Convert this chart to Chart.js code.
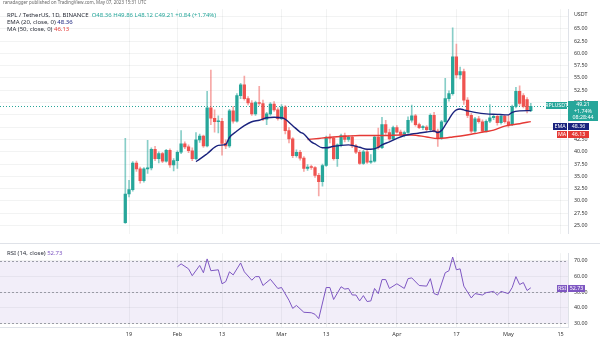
<!DOCTYPE html>
<html><head><meta charset="utf-8">
<script src="https://cdn.jsdelivr.net/npm/chart.js@4.4.0/dist/chart.umd.min.js"></script>
<style>
html,body{margin:0;padding:0;background:#fff;}
#wrap{position:relative;width:600px;height:340px;overflow:hidden;font-family:"Noto Sans",sans-serif;}
canvas{position:absolute;left:0;}
#c1{top:0;}
#c2{top:244px;}
#sep{position:absolute;left:0;top:243px;width:600px;height:1px;background:#dfe2e8;}
.t{position:absolute;white-space:nowrap;font-size:6px;line-height:7px;color:#2a2e39;}
</style></head><body>
<div id="wrap">
<canvas id="c1" width="600" height="243"></canvas>
<canvas id="c2" width="600" height="96"></canvas>
<div id="sep"></div>
<div class="t" style="left:3px;top:0px;font-size:4.5px;line-height:5px;color:#666">ranadagger published on TradingView.com, May 07, 2023 15:31 UTC</div>
<div class="t" style="left:7px;top:12px">RPL / TetherUS, 1D, BINANCE&nbsp; <span style="color:#26a69a">O48.36 H49.86 L48.12 C49.21 +0.84 (+1.74%)</span></div>
<div class="t" style="left:7px;top:19px">EMA (20, close, 0) <span style="color:#1a237e">48.36</span></div>
<div class="t" style="left:7px;top:26px">MA (50, close, 0) <span style="color:#e53935">46.13</span></div>
<div class="t" style="left:7px;top:250px">RSI (14, close) <span style="color:#7e57c2">52.73</span></div>
</div>
<script>
// ---- data (day index 0 = Jan 18, 2023) ----
const tickDays   = [1, 14, 26, 42, 54, 73, 89, 103, 117];
const tickLabels = ['19','Feb','13','Mar','13','Apr','17','May','15'];
const open  = [25.6,31.4,32.3,37.7,36.5,34.1,36.5,36.7,40.5,38.6,39.6,38.1,40.3,37.3,38.2,39.9,41.6,41.0,40.2,38.6,42.4,43.2,41.2,48.9,46.8,46.1,46.2,41.7,41.2,48.3,46.2,51.4,53.6,50.8,49.9,47.7,50.0,49.8,46.6,47.7,49.7,48.5,46.7,49.1,44.3,42.6,39.2,39.9,38.7,36.6,36.9,36.8,35.2,33.9,37.2,42.9,42.7,38.6,41.4,43.3,42.5,43.0,41.2,39.9,37.6,40.0,37.9,38.1,43.0,40.8,45.5,43.9,42.6,44.9,44.0,43.5,43.9,46.4,47.3,45.5,44.9,45.0,44.5,47.4,44.2,42.8,46.1,50.8,51.8,59.3,55.6,56.3,50.5,47.4,44.2,46.7,46.1,44.2,46.2,46.9,47.2,45.9,47.2,46.1,45.5,49.2,52.3,51.4,50.6,48.36];
const high  = [42.7,34.2,38.0,38.1,36.9,36.8,42.3,40.8,41.1,40.0,39.9,40.5,40.6,38.6,40.2,44.3,42.0,41.4,40.8,43.9,43.6,43.4,52.3,56.6,48.5,47.3,46.8,42.4,48.6,49.2,51.8,53.9,55.4,51.2,50.4,50.3,53.3,50.5,48.0,50.0,50.2,48.9,49.6,49.4,44.9,42.9,40.4,40.3,39.0,37.4,37.3,37.0,35.6,37.5,43.2,43.6,43.0,41.6,43.6,43.8,43.2,43.3,41.5,40.3,40.3,40.4,39.4,43.3,44.8,47.0,46.4,44.6,45.2,45.3,44.4,44.2,47.1,49.5,47.6,45.8,45.3,45.3,47.7,48.0,44.6,46.4,54.9,52.4,65.2,61.9,57.2,56.8,51.0,47.8,47.0,47.2,46.5,46.5,49.6,47.6,47.5,47.6,47.5,47.4,49.5,53.1,53.4,51.8,51.0,49.86];
const low   = [25.4,30.8,32.0,36.0,33.6,33.8,35.6,36.3,38.2,37.7,37.8,37.9,36.8,36.1,36.6,39.6,40.6,39.8,38.2,38.4,41.9,40.9,41.0,45.5,44.0,43.8,39.3,40.6,40.9,45.8,46.0,50.8,50.5,49.5,47.4,47.4,49.4,46.3,45.5,47.4,48.2,46.4,46.5,43.6,41.8,38.8,38.9,38.3,36.0,36.2,36.4,34.8,31.0,33.0,37.0,41.8,38.3,37.0,41.0,42.0,42.1,40.8,39.6,37.4,37.4,37.6,37.6,37.9,40.5,40.6,43.5,42.3,42.4,43.8,43.2,43.0,43.7,46.0,45.2,44.7,44.5,44.2,44.3,44.0,41.1,42.5,45.8,50.3,51.5,55.0,54.8,49.6,46.9,43.8,43.9,45.8,43.9,44.0,45.9,46.5,45.4,45.6,45.8,45.0,45.3,48.9,49.4,48.9,47.9,48.12];
const close = [31.4,32.3,37.7,36.5,34.1,36.5,36.7,40.5,38.6,39.6,38.1,40.3,37.3,38.2,39.9,41.6,41.0,40.2,38.6,42.4,43.2,41.2,48.9,46.8,46.1,46.2,41.7,41.2,48.3,46.2,51.4,53.6,50.8,49.9,47.7,50.0,49.8,46.6,47.7,49.7,48.5,46.7,49.1,44.3,42.6,39.2,39.9,38.7,36.6,36.9,36.8,35.2,33.9,37.2,42.9,42.7,38.6,41.4,43.3,42.5,43.0,41.2,39.9,37.6,40.0,37.9,38.1,43.0,40.8,45.5,43.9,42.6,44.9,44.0,43.5,43.9,46.4,47.3,45.5,44.9,45.0,44.5,47.4,44.2,42.8,46.1,50.8,51.8,59.3,55.6,56.3,50.5,47.4,44.2,46.7,46.1,44.2,46.2,46.9,47.2,45.9,47.2,46.1,45.5,49.2,52.3,49.8,49.2,48.36,49.21];
const emaDays   = [19,20,22,25,27,28,30,32,34,36,38,40,42,43,45,47,48,50,51,53,54,56,58,60,61,63,65,66,68,69,71,73,75,77,79,81,83,84,85,86,87,88,89,90,91,92,94,97,100,102,103,104,106,109];
const emaValues = [38.0,38.5,39.6,41.3,41.5,42.9,44.2,45.3,46.1,46.4,46.9,47.0,46.9,46.6,45.3,44.0,43.6,42.0,41.6,40.8,40.8,41.1,41.3,41.4,41.3,40.9,40.5,40.5,40.9,41.4,42.0,42.7,43.3,43.6,43.8,44.0,44.2,43.9,44.3,45.4,46.6,47.8,48.5,48.7,48.5,48.3,48.0,47.7,47.6,47.5,47.5,48.0,48.3,48.36];
const maDays    = [49,52,56,60,63,67,70,74,77,81,84,86,88,91,94,97,99,102,106,109];
const maValues  = [42.5,42.7,43.0,43.2,43.3,43.3,43.3,43.4,43.4,43.0,42.7,42.8,43.0,43.3,43.7,44.1,44.4,45.2,45.7,46.13];
const rsiDays   = [14,15,17,18,20,21,22,23,25,26,27,28,29,31,32,34,35,36,37,39,41,42,44,45,46,48,50,51,52,54,55,56,58,59,60,61,62,63,64,65,66,67,68,69,70,71,73,75,76,77,79,81,82,83,84,86,87,88,89,90,91,93,94,96,97,99,100,101,103,104,105,106,107,108,109];
const rsiValues = [66.2,68.1,64.9,60.5,67.1,62.4,71.3,63.7,64.3,55.3,56.7,63.0,61.0,68.7,63.0,57.6,59.9,59.9,54.2,58.2,52.3,52.9,44.7,39.5,41.4,37.0,36.7,35.7,32.9,52.9,52.9,45.2,53.4,51.9,52.3,48.1,48.1,44.3,47.7,43.9,44.3,52.3,49.0,58.0,58.0,52.3,55.3,52.3,58.6,59.1,54.2,53.8,58.6,49.0,48.1,62.4,63.7,72.5,64.3,64.9,53.8,46.2,49.0,48.1,49.6,50.4,48.1,50.4,49.0,52.9,59.9,54.8,56.1,51.0,52.73];
const priceTicks = [25,27.5,30,32.5,35,37.5,40,42.5,45,47.5,50,52.5,55,57.5,60,62.5,65,67.5];
const rsiTicks   = [30,40,50,60,70];

// ---- styles ----
const FONT = '"Noto Sans", sans-serif';
const UP = '#26a69a', DOWN = '#ef5350';
const UPW = 'rgba(38,166,154,0.55)', DOWNW = 'rgba(239,83,80,0.5)';
const GRID = 'rgba(42,46,57,0.06)';
const AXIS = '#dfe2e8';
const X_MIN = -33.68, X_MAX = 119.0;
const last = close.length - 1;

function xScale(showLabels){
  return {
    type:'linear', min:X_MIN, max:X_MAX, offset:false,
    grid:{offset:false, color:GRID, drawTicks:false},
    border:{display:showLabels, color:AXIS},
    afterBuildTicks: s => { s.ticks = tickDays.map(v => ({value:v})); },
    ticks:{display:showLabels, font:{size:5.5, family:FONT}, color:'#333', padding:4, maxRotation:0, autoSkip:false,
      callback:(v)=>{ const i = tickDays.indexOf(v); return i>=0 ? tickLabels[i] : ''; }},
    afterFit: s => { s.height = showLabels ? 13 : 0; }
  };
}

function box(ctx, x, y, w, h, bg, lines, color, size){
  ctx.fillStyle = bg; ctx.fillRect(x, y, w, h);
  ctx.fillStyle = color || '#fff';
  ctx.font = (size||5.3) + 'px ' + FONT;
  ctx.textAlign = 'center'; ctx.textBaseline = 'middle';
  const lh = h / lines.length;
  lines.forEach((t,i)=> ctx.fillText(t, x + w/2, y + lh*i + lh/2 + 0.3));
}

const pricePlugin = {
  id:'pricePlugin',
  beforeDatasetsDraw(chart){
    const {ctx, chartArea, scales:{y}} = chart;
    const py = Math.round(y.getPixelForValue(close[last])) + 0.5;
    ctx.save();
    ctx.strokeStyle = UP; ctx.lineWidth = 1; ctx.setLineDash([1,2]);
    ctx.beginPath(); ctx.moveTo(chartArea.left, py); ctx.lineTo(chartArea.right, py); ctx.stroke();
    ctx.restore();
  },
  afterDraw(chart){
    const {ctx, chartArea, scales:{y}} = chart;
    const R = chartArea.right;
    const py = y.getPixelForValue(close[last]);
    ctx.save();
    ctx.fillStyle = '#333'; ctx.font = '5.3px ' + FONT; ctx.textAlign='left'; ctx.textBaseline='middle';
    ctx.fillText('USDT', R + 6, 14);
    const top = Math.round(py) - 5;
    box(ctx, R - 22, top + 1, 21, 7, UP, ['RPLUSDT']);
    box(ctx, R, top, 30, 20, UP, [close[last].toFixed(2), '+1.74%', '08:28:44']);
    box(ctx, R - 15, top + 22, 14, 7, '#1a237e', ['EMA']);
    box(ctx, R, top + 22, 21, 7, '#1a237e', [emaValues[emaValues.length-1].toFixed(2)]);
    box(ctx, R - 11, top + 30, 10, 7, '#e53935', ['MA']);
    box(ctx, R, top + 30, 21, 7, '#e53935', [maValues[maValues.length-1].toFixed(2)]);
    ctx.restore();
  }
};

const rsiPlugin = {
  id:'rsiPlugin',
  beforeDatasetsDraw(chart){
    const {ctx, chartArea, scales:{y}} = chart;
    const y70 = y.getPixelForValue(70), y30 = y.getPixelForValue(30);
    ctx.save();
    ctx.fillStyle = 'rgba(126,87,194,0.1)';
    ctx.fillRect(chartArea.left, y70, chartArea.right - chartArea.left, y30 - y70);
    ctx.strokeStyle = 'rgba(120,123,134,0.7)'; ctx.lineWidth = 1; ctx.setLineDash([2,2]);
    [70,50,30].forEach(v => {
      const py = Math.round(y.getPixelForValue(v)) + 0.5;
      ctx.beginPath(); ctx.moveTo(chartArea.left, py); ctx.lineTo(chartArea.right, py); ctx.stroke();
    });
    ctx.restore();
  },
  afterDraw(chart){
    const {ctx, chartArea, scales:{y}} = chart;
    const R = chartArea.right;
    const py = Math.round(y.getPixelForValue(rsiValues[rsiValues.length-1]));
    ctx.save();
    box(ctx, R - 11, py - 3, 10, 7, '#7e57c2', ['RSI']);
    box(ctx, R, py - 3, 17, 7, '#7e57c2', [rsiValues[rsiValues.length-1].toFixed(2)]);
    ctx.restore();
  }
};

const candleColor = (i, w) => close[i] >= open[i] ? (w ? UPW : UP) : (w ? DOWNW : DOWN);

new Chart(document.getElementById('c1'), {
  type:'bar',
  data:{datasets:[
    {type:'line', data: emaDays.map((d,i)=>({x:d, y:emaValues[i]})), borderColor:'#1a237e', borderWidth:1.4,
     pointRadius:0, cubicInterpolationMode:'monotone', order:0},
    {type:'line', data: maDays.map((d,i)=>({x:d, y:maValues[i]})), borderColor:'#e53935', borderWidth:1.4,
     pointRadius:0, cubicInterpolationMode:'monotone', order:0},
    {data: close.map((c,i)=>({x:i, y:[open[i], c]})), backgroundColor: ctx => candleColor(ctx.dataIndex,false),
     barThickness:2.6, minBarLength:1, grouped:false, order:1},
    {data: close.map((c,i)=>({x:i, y:[low[i], high[i]]})), backgroundColor: ctx => candleColor(ctx.dataIndex,true),
     barThickness:1, grouped:false, order:2}
  ]},
  options:{
    responsive:false, animation:false, events:[],
    layout:{padding:0},
    plugins:{legend:{display:false}, tooltip:{enabled:false}},
    scales:{
      x: xScale(false),
      y:{position:'right', min:23.31, max:68.98,
         grid:{color:GRID, drawTicks:false}, border:{color:AXIS},
         afterBuildTicks: s => { s.ticks = priceTicks.map(v => ({value:v})); },
         ticks:{font:{size:5.3, family:FONT}, color:'#333', padding:6, callback: v => v <= 65 ? v.toFixed(2) : ''},
         afterFit: s => { s.width = 32; }}
    }
  },
  plugins:[pricePlugin]
});

new Chart(document.getElementById('c2'), {
  type:'line',
  data:{datasets:[
    {data: rsiDays.map((d,i)=>({x:d, y:rsiValues[i]})), borderColor:'#7e57c2', borderWidth:1, pointRadius:0, tension:0}
  ]},
  options:{
    responsive:false, animation:false, events:[],
    layout:{padding:0},
    plugins:{legend:{display:false}, tooltip:{enabled:false}},
    scales:{
      x: xScale(true),
      y:{position:'right', min:27.54, max:74.97,
         grid:{color:GRID, drawTicks:false}, border:{color:AXIS},
         afterBuildTicks: s => { s.ticks = rsiTicks.map(v => ({value:v})); },
         ticks:{font:{size:5.3, family:FONT}, color:'#333', padding:6, callback: v => v.toFixed(2)},
         afterFit: s => { s.width = 32; }}
    }
  },
  plugins:[rsiPlugin]
});
</script>
</body></html>
